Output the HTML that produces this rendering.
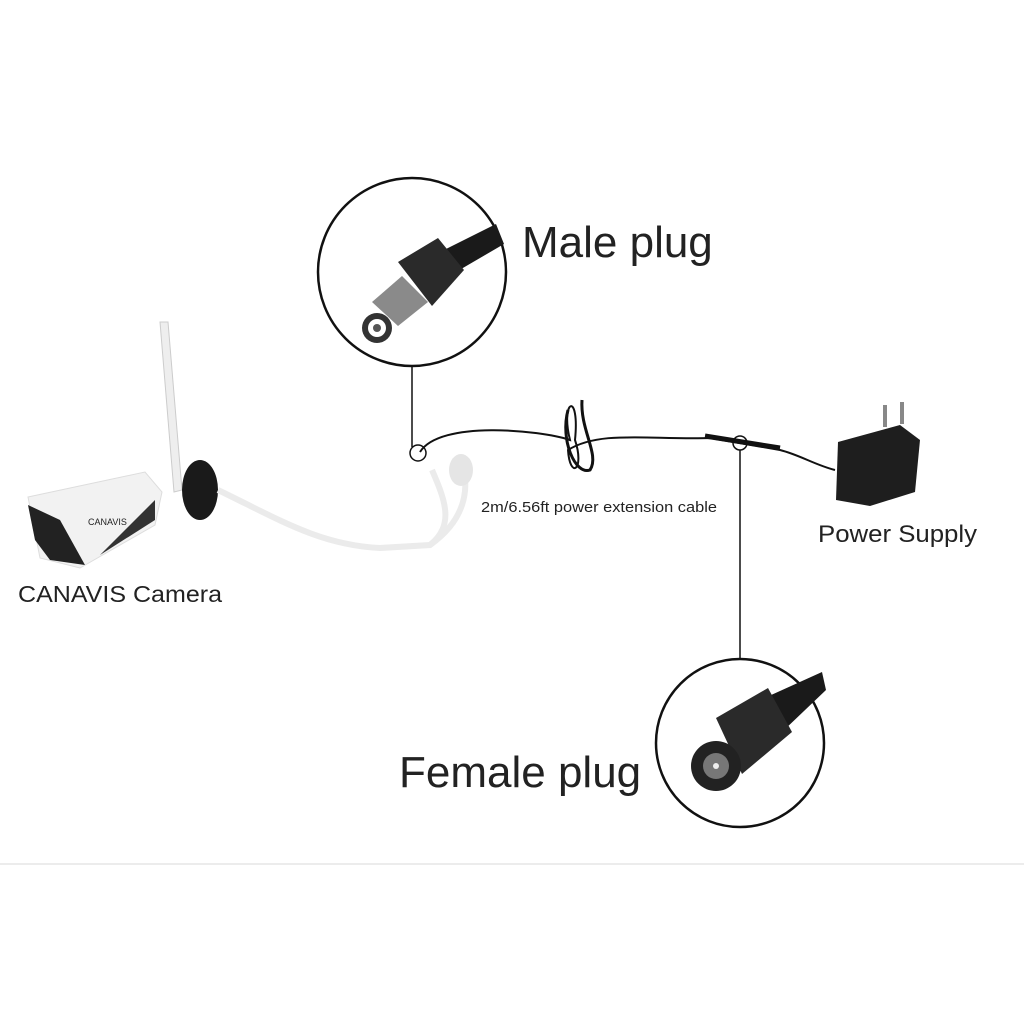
<!DOCTYPE html>
<html><head><meta charset="utf-8"><style>
html,body{margin:0;padding:0;background:#fff;}
svg{display:block;}
text{font-family:"Liberation Sans","DejaVu Sans",sans-serif;fill:#222;}
</style></head><body>
<svg width="1024" height="1024" viewBox="0 0 1024 1024">
<rect width="1024" height="1024" fill="#fff"/>
<!-- male plug circle -->
<circle cx="412" cy="272" r="94" fill="#fff" stroke="#111" stroke-width="2.5"/>
<g>
<path d="M440 252 L496 224 L504 244 L456 272 Z" fill="#1a1a1a"/>
<path d="M398 262 L438 238 L464 270 L432 306 Z" fill="#2a2a2a"/>
<path d="M372 302 L402 276 L428 302 L398 326 Z" fill="#8a8a8a"/>
<circle cx="377" cy="328" r="15" fill="#333"/>
<circle cx="377" cy="328" r="9" fill="#fff"/>
<circle cx="377" cy="328" r="4" fill="#555"/>
</g>
<line x1="412" y1="366" x2="412" y2="447" stroke="#111" stroke-width="1.5"/>
<circle cx="418" cy="453" r="8" fill="none" stroke="#111" stroke-width="1.5"/>
<!-- female plug circle -->
<circle cx="740" cy="743" r="84" fill="#fff" stroke="#111" stroke-width="2.5"/>
<path d="M760 700 L822 672 L826 690 L782 732 Z" fill="#1a1a1a"/>
<path d="M716 718 L768 688 L792 732 L742 774 Z" fill="#2a2a2a"/>
<circle cx="716" cy="766" r="25" fill="#222"/>
<circle cx="716" cy="766" r="13" fill="#777"/>
<circle cx="716" cy="766" r="3" fill="#eee"/>
<line x1="740" y1="659" x2="740" y2="450" stroke="#111" stroke-width="1.5"/>
<circle cx="740" cy="443" r="7" fill="none" stroke="#111" stroke-width="1.5"/>
<!-- camera -->
<path d="M160 322 L168 322 L182 490 L174 492 Z" fill="#eee" stroke="#ccc"/>
<ellipse cx="200" cy="490" rx="18" ry="30" fill="#1a1a1a"/>
<path d="M28 497 L145 472 L162 492 L155 525 L80 568 L40 558 Z" fill="#f2f2f2" stroke="#ddd"/>
<path d="M28 505 L60 520 L85 565 L50 560 L35 540 Z" fill="#222"/>
<path d="M100 555 L155 520 L155 500 Z" fill="#333"/>
<text x="88" y="525" font-size="9" fill="#333">CANAVIS</text>
<!-- white cable -->
<path d="M218 490 C280 520 320 545 380 548 L430 545 C455 525 445 500 432 470" fill="none" stroke="#ebebeb" stroke-width="6"/>
<path d="M430 545 C465 520 470 490 462 462" fill="none" stroke="#ebebeb" stroke-width="6"/>
<ellipse cx="461" cy="470" rx="12" ry="16" fill="#e5e5e5"/>
<!-- black cable -->
<path d="M420 452 C440 420 540 430 570 440 C560 400 580 390 575 440 C585 470 570 480 568 450 C600 430 650 440 710 438 L780 450 C800 455 815 465 835 470" fill="none" stroke="#111" stroke-width="2"/>
<path d="M568 410 C560 440 575 475 590 470 C600 455 580 430 582 400" fill="none" stroke="#111" stroke-width="3"/>
<path d="M705 436 L780 448" stroke="#111" stroke-width="5"/>
<!-- power supply -->
<path d="M838 442 L900 425 L920 440 L915 492 L870 506 L836 500 Z" fill="#1e1e1e"/>
<rect x="883" y="405" width="4" height="22" fill="#888"/>
<rect x="900" y="402" width="4" height="22" fill="#888"/>
<!-- labels -->
<text x="522" y="257" font-size="44">Male plug</text>
<text x="399" y="787" font-size="44">Female plug</text>
<text x="18" y="602" font-size="23" textLength="204" lengthAdjust="spacingAndGlyphs">CANAVIS Camera</text>
<text x="818" y="542" font-size="24" textLength="159" lengthAdjust="spacingAndGlyphs">Power Supply</text>
<text x="481" y="512" font-size="15" textLength="236" lengthAdjust="spacingAndGlyphs">2m/6.56ft power extension cable</text>
<line x1="0" y1="864" x2="1024" y2="864" stroke="#e6e6e6" stroke-width="1.5"/>
</svg>
</body></html>
